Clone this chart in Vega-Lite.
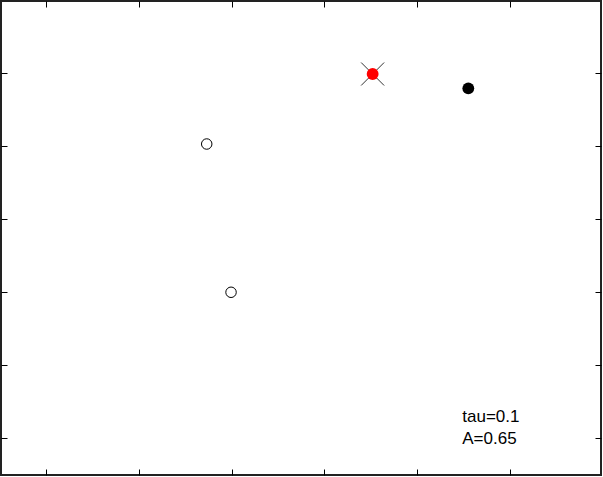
{
  "$schema": "https://vega.github.io/schema/vega-lite/v6.json",
  "width": 600,
  "height": 474,
  "autosize": {"type": "none"},
  "padding": {"left": 1, "top": 1, "right": 2, "bottom": 2},
  "background": "white",
  "config": {
    "view": {"stroke": "#222222", "strokeWidth": 2},
    "axis": {"labels": false, "domain": false, "grid": false, "ticks": true, "tickSize": -6, "tickColor": "#000000", "tickWidth": 1, "title": null}
  },
  "datasets": {
    "pts": [
      {"x": 1.732, "y": 4.027, "kind": "open"},
      {"x": 1.994, "y": 1.996, "kind": "open"},
      {"x": 3.52, "y": 4.986, "kind": "red"},
      {"x": 4.551, "y": 4.79, "kind": "black"}
    ],
    "notes": [
      {"x": 4.486, "y": 0.215, "label": "tau=0.1"},
      {"x": 4.486, "y": -0.086, "label": "A=0.65"}
    ]
  },
  "layer": [
    {
      "data": {"name": "pts"},
      "transform": [{"filter": "datum.kind === 'open'"}],
      "mark": {"type": "point", "shape": "circle", "filled": false, "stroke": "#000000", "strokeWidth": 1, "size": 110, "opacity": 1},
      "encoding": {
        "x": {"field": "x", "type": "quantitative", "scale": {"domain": [-0.485, 5.981], "nice": false, "zero": false}, "axis": {"orient": "bottom", "values": [0, 1, 2, 3, 4, 5]}},
        "y": {"field": "y", "type": "quantitative", "scale": {"domain": [-0.507, 5.986], "nice": false, "zero": false}, "axis": {"orient": "left", "values": [0, 1, 2, 3, 4, 5]}}
      }
    },
    {
      "data": {"name": "pts"},
      "transform": [{"filter": "datum.kind === 'red'"}],
      "mark": {"type": "point", "shape": "M-1,-1L1,1M-1,1L1,-1", "filled": false, "stroke": "#333333", "strokeWidth": 1, "size": 529, "opacity": 1},
      "encoding": {
        "x": {"field": "x", "type": "quantitative", "axis": null},
        "y": {"field": "y", "type": "quantitative", "axis": null}
      }
    },
    {
      "data": {"name": "pts"},
      "transform": [{"filter": "datum.kind !== 'open'"}],
      "mark": {"type": "point", "shape": "circle", "filled": true, "strokeWidth": 0, "size": 140, "opacity": 1},
      "encoding": {
        "x": {"field": "x", "type": "quantitative", "axis": {"orient": "top", "values": [0, 1, 2, 3, 4, 5]}},
        "y": {"field": "y", "type": "quantitative", "axis": {"orient": "right", "values": [0, 1, 2, 3, 4, 5]}},
        "fill": {"field": "kind", "type": "nominal", "scale": {"domain": ["red", "black"], "range": ["#ff0000", "#000000"]}, "legend": null}
      }
    },
    {
      "data": {"name": "notes"},
      "mark": {"type": "text", "align": "left", "baseline": "alphabetic", "font": "Liberation Sans", "fontSize": 17, "color": "#000000"},
      "encoding": {
        "x": {"field": "x", "type": "quantitative", "axis": null},
        "y": {"field": "y", "type": "quantitative", "axis": null},
        "text": {"field": "label"}
      }
    }
  ],
  "resolve": {"axis": {"x": "independent", "y": "independent"}}
}
